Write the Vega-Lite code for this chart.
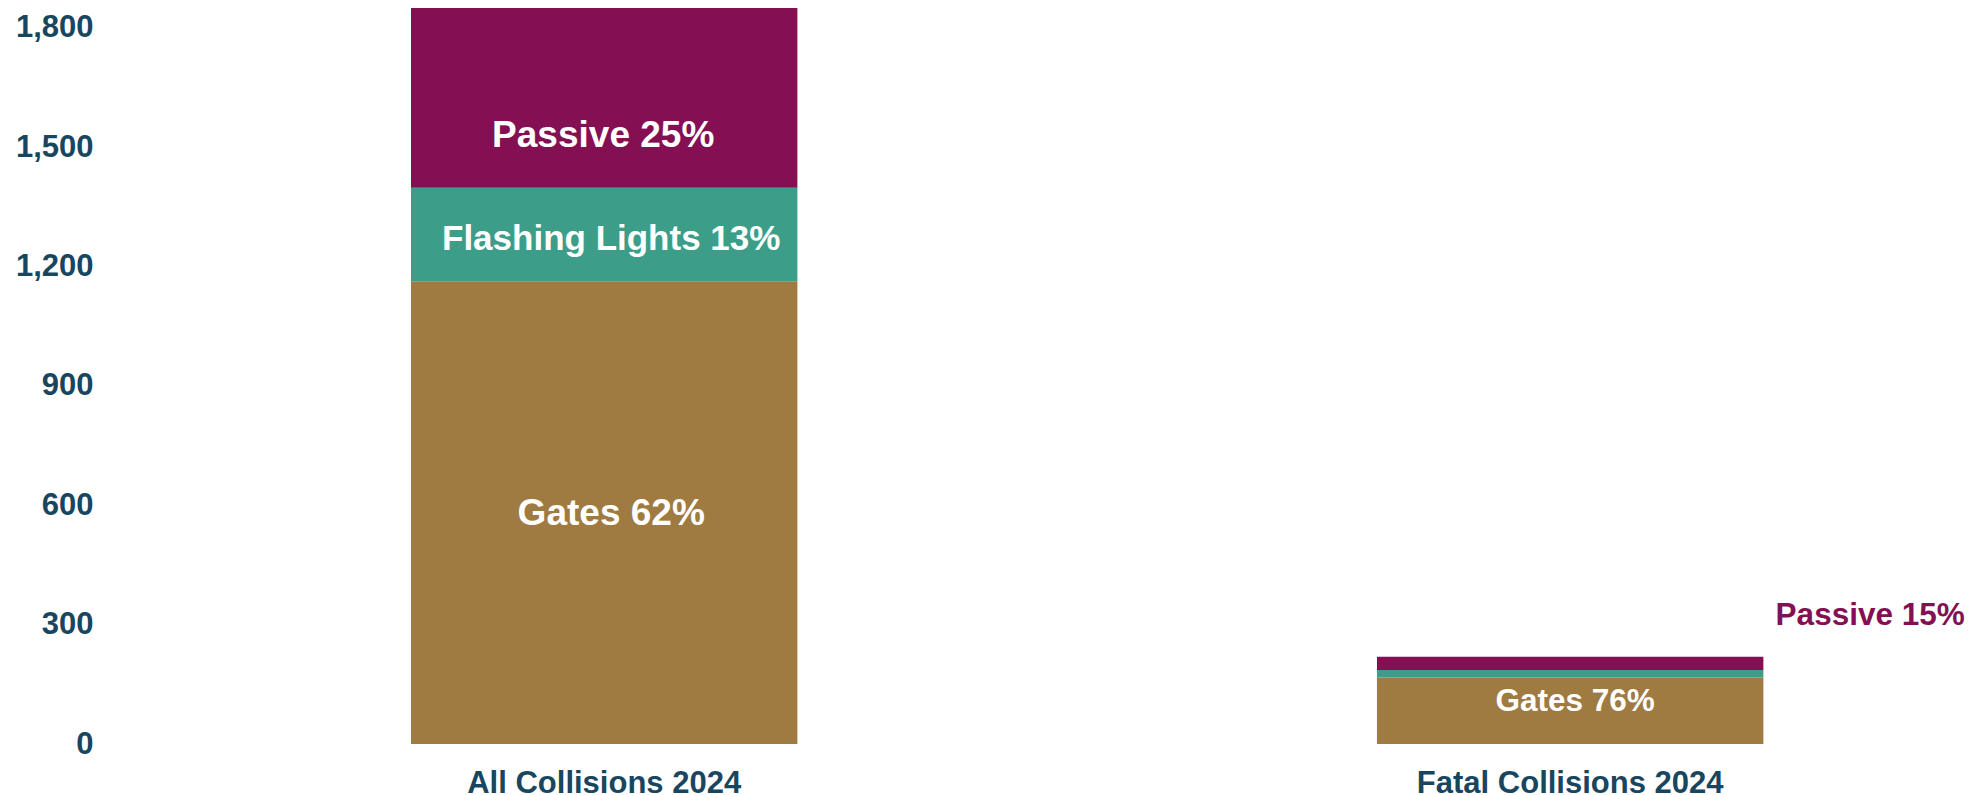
{
  "$schema": "https://vega.github.io/schema/vega-lite/v6.json",
  "width": 1874,
  "height": 740,
  "autosize": {"type": "none"},
  "padding": {"left": 101, "top": 4, "right": 0, "bottom": 51},
  "background": "white",
  "config": {"view": {"stroke": null}, "font": "Liberation Sans"},
  "data": {
    "values": [
      {"category": "All Collisions 2024", "type": "Gates", "count": 1163, "label": "Gates 62%"},
      {"category": "All Collisions 2024", "type": "Flashing Lights", "count": 235, "label": "Flashing Lights 13%"},
      {"category": "All Collisions 2024", "type": "Passive", "count": 452, "label": "Passive 25%"},
      {"category": "Fatal Collisions 2024", "type": "Gates", "count": 167, "label": "Gates 76%"},
      {"category": "Fatal Collisions 2024", "type": "Flashing Lights", "count": 19, "label": "Flashing Lights 9%"},
      {"category": "Fatal Collisions 2024", "type": "Passive", "count": 33, "label": "Passive 15%"}
    ]
  },
  "transform": [
    {"calculate": "indexof(['Gates','Flashing Lights','Passive'], datum.type)", "as": "typeOrder"},
    {"stack": "count", "groupby": ["category"], "sort": [{"field": "typeOrder", "order": "ascending"}], "as": ["s0", "s1"]},
    {"calculate": "(datum.s0 + datum.s1) / 2", "as": "mid"}
  ],
  "encoding": {
    "x": {
      "field": "category",
      "type": "nominal",
      "sort": ["All Collisions 2024", "Fatal Collisions 2024"],
      "scale": {"paddingInner": 0.6, "paddingOuter": 0.27, "align": 0.5943},
      "axis": {
        "title": null,
        "labelAngle": 0,
        "labelLimit": 0,
        "domain": false,
        "ticks": false,
        "tickSize": 0,
        "labelPadding": 24,
        "labelFontSize": 31,
        "labelFontWeight": "bold",
        "labelColor": "#18465F",
        "labelFont": "Liberation Sans"
      }
    }
  },
  "layer": [
    {
      "mark": {"type": "bar"},
      "encoding": {
        "y": {
          "field": "s1",
          "type": "quantitative",
          "scale": {"domain": [0, 1860], "nice": false},
          "axis": {
            "title": null,
            "values": [0, 300, 600, 900, 1200, 1500, 1800],
            "format": ",d",
            "grid": false,
            "domain": false,
            "ticks": false,
            "tickSize": 0,
            "labelPadding": 8,
            "labelLimit": 0,
            "labelFontSize": 31,
            "labelFontWeight": "bold",
            "labelColor": "#18465F",
            "labelFont": "Liberation Sans"
          }
        },
        "y2": {"field": "s0"},
        "color": {
          "field": "type",
          "type": "nominal",
          "scale": {"domain": ["Gates", "Flashing Lights", "Passive"], "range": ["#9F7B42", "#3C9D89", "#840F53"]},
          "legend": null
        }
      }
    },
    {
      "transform": [{"filter": "datum.category === 'All Collisions 2024' && datum.type === 'Passive'"}],
      "mark": {"type": "text", "color": "white", "fontWeight": "bold", "fontSize": 37, "baseline": "middle", "dy": 38, "dx": -1},
      "encoding": {"y": {"field": "mid", "type": "quantitative", "title": null}, "text": {"field": "label"}}
    },
    {
      "transform": [{"filter": "datum.category === 'All Collisions 2024' && datum.type === 'Flashing Lights'"}],
      "mark": {"type": "text", "color": "white", "fontWeight": "bold", "fontSize": 35, "baseline": "middle", "dy": 4, "dx": 7},
      "encoding": {"y": {"field": "mid", "type": "quantitative", "title": null}, "text": {"field": "label"}}
    },
    {
      "transform": [{"filter": "datum.category === 'All Collisions 2024' && datum.type === 'Gates'"}],
      "mark": {"type": "text", "color": "white", "fontWeight": "bold", "fontSize": 37, "baseline": "middle", "dy": 1, "dx": 7},
      "encoding": {"y": {"field": "mid", "type": "quantitative", "title": null}, "text": {"field": "label"}}
    },
    {
      "transform": [{"filter": "datum.category === 'Fatal Collisions 2024' && datum.type === 'Gates'"}],
      "mark": {"type": "text", "color": "white", "fontWeight": "bold", "fontSize": 31.5, "baseline": "middle", "dy": -9, "dx": 5},
      "encoding": {"y": {"field": "mid", "type": "quantitative", "title": null}, "text": {"field": "label"}}
    },
    {
      "transform": [{"filter": "datum.category === 'Fatal Collisions 2024' && datum.type === 'Passive'"}],
      "mark": {"type": "text", "color": "#840F53", "fontWeight": "bold", "fontSize": 31.5, "baseline": "middle", "dy": -47, "dx": 300},
      "encoding": {"y": {"field": "mid", "type": "quantitative", "title": null}, "text": {"field": "label"}}
    }
  ]
}
